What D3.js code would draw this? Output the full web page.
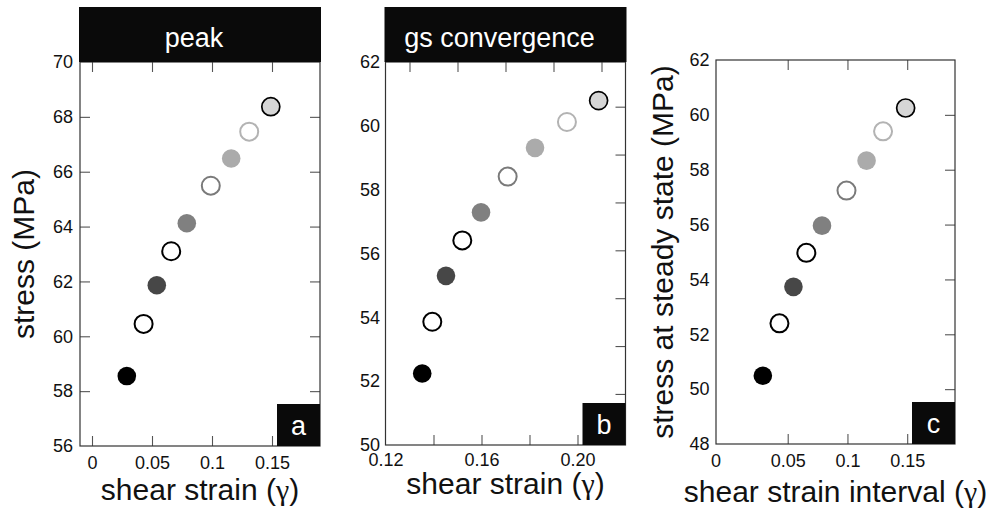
<!DOCTYPE html>
<html>
<head>
<meta charset="utf-8">
<script src="https://cdn.jsdelivr.net/npm/d3@7"></script>
<style>
  body { margin: 0; background: #fff; }
  text { font-family: "Liberation Sans", Arial, Helvetica, sans-serif; }
</style>
</head>
<body>
<script>
// values
var strainA = [0.029, 0.043, 0.054, 0.066, 0.079, 0.099, 0.116, 0.131, 0.149];
var stressA = [58.55, 60.45, 61.86, 63.10, 64.12, 65.49, 66.48, 67.46, 68.37];

var strainB = [0.1353, 0.1395, 0.1452, 0.1520, 0.1598, 0.1709, 0.1823, 0.1956, 0.2088];
var stressB = [52.24, 53.86, 55.30, 56.41, 57.29, 58.41, 59.31, 60.12, 60.79];

var strainC = [0.0292, 0.0431, 0.0548, 0.0656, 0.0787, 0.0992, 0.1160, 0.1298, 0.1487];
var stressC = [50.49, 52.40, 53.73, 54.97, 55.96, 57.24, 58.33, 59.40, 60.25];

// tick labels / tick values
var ticksA_x = [0, 0.05, 0.1, 0.15];
var ticksA_y = [56, 58, 60, 62, 64, 66, 68, 70];
var ticksA_yInner = [58, 60, 62, 64, 66, 68];

var ticksB_x = [0.12, 0.16, 0.20];
var ticksB_xBottom = [0.14, 0.16, 0.18, 0.20];
var ticksB_xTop = [0.13, 0.15, 0.17, 0.19, 0.21];
var ticksB_y = [50, 52, 54, 56, 58, 60, 62];
var ticksB_yRight = [51.6, 53.1, 54.6, 56.1, 57.6, 59.1, 60.6];

var ticksC_x = [0.05, 0.1, 0.15];
var ticksC_y = [48, 50, 52, 54, 56, 58, 60, 62];
var ticksC_yInner = [50, 52, 54, 56, 58, 60];

// marker look, one per point (same order in every panel)
var markFill   = ["#000", "#fff", "#474747", "#fff", "#808080", "#fff", "#ababab", "#fff", "#d6d6d6"];
var markStroke = ["none", "#000", "none", "#000", "none", "#7a7a7a", "none", "#b3b3b3", "#000"];

var W = 1003, H = 514;
var svg = d3.select("body").append("svg").attr("width", W).attr("height", H);

var panels = [
  { xs: strainA, ys: stressA, xDomain: [-0.01, 0.19], yDomain: [56, 70],
    left: 80, right: 320, top: 62, bottom: 446,
    xLabels: ticksA_x, xFmt: function(d){ return String(d); }, xPad: 10,
    xTicksBottom: ticksA_x, xTicksTop: ticksA_x,
    yLabels: ticksA_y, yPad: 7, yTicksLeft: ticksA_yInner, yTicksRight: ticksA_yInner,
    title: "peak", letter: "a",
    ylab: "stress (MPa)", ylabX: 34,
    xlab: "shear strain ", xlabY: 500 },
  { xs: strainB, ys: stressB, xDomain: [0.12, 0.22], yDomain: [50, 62],
    left: 385.5, right: 625.5, top: 62, bottom: 445,
    xLabels: ticksB_x, xFmt: d3.format(".2f"), xPad: 8,
    xTicksBottom: ticksB_xBottom, xTicksTop: ticksB_xTop,
    yLabels: ticksB_y, yPad: 5.5, yTicksLeft: null, yTicksRight: ticksB_yRight,
    title: "gs convergence", letter: "b",
    ylab: null,
    xlab: "shear strain ", xlabY: 494 },
  { xs: strainC, ys: stressC, xDomain: [-0.01, 0.19], yDomain: [48, 62],
    left: 716, right: 955, top: 60, bottom: 444,
    xLabels: ticksC_x, xFmt: function(d){ return String(d); }, xPad: 10, zeroAtEdge: true,
    xTicksBottom: ticksC_x, xTicksTop: ticksC_x,
    yLabels: ticksC_y, yPad: 6.5, yTicksLeft: null, yTicksRight: ticksC_yInner,
    title: null, letter: "c",
    ylab: "stress at steady state (MPa)", ylabX: 673,
    xlab: "shear strain interval ", xlabY: 502 }
];

function styleAxis(sel, size) {
  sel.select(".domain").remove();
  sel.attr("font-family", null).attr("font-size", null);
  sel.selectAll("line").attr("stroke", "#555").attr("stroke-width", 1.1);
  sel.selectAll("text").attr("font-size", size).attr("fill", "#111");
}

panels.forEach(function(p) {
  var x = d3.scaleLinear().domain(p.xDomain).range([p.left, p.right]);
  var y = d3.scaleLinear().domain(p.yDomain).range([p.bottom, p.top]);
  var g = svg.append("g");

  // inward ticks
  g.append("g").attr("transform", "translate(0," + p.bottom + ")")
    .call(d3.axisTop(x).tickValues(p.xTicksBottom).tickSize(10).tickFormat(""))
    .call(styleAxis, 18);
  g.append("g").attr("transform", "translate(0," + p.top + ")")
    .call(d3.axisBottom(x).tickValues(p.xTicksTop).tickSize(10).tickFormat(""))
    .call(styleAxis, 18);
  if (p.yTicksLeft) {
    g.append("g").attr("transform", "translate(" + p.left + ",0)")
      .call(d3.axisRight(y).tickValues(p.yTicksLeft).tickSize(10).tickFormat(""))
      .call(styleAxis, 18);
  }
  g.append("g").attr("transform", "translate(" + p.right + ",0)")
    .call(d3.axisLeft(y).tickValues(p.yTicksRight).tickSize(10).tickFormat(""))
    .call(styleAxis, 18);

  // tick labels
  g.append("g").attr("transform", "translate(0," + p.bottom + ")")
    .call(d3.axisBottom(x).tickValues(p.xLabels).tickSize(0).tickPadding(p.xPad).tickFormat(p.xFmt))
    .call(styleAxis, 18);
  if (p.zeroAtEdge) {
    g.append("text").attr("x", x(p.xDomain[0])).attr("y", p.bottom + p.xPad)
      .attr("dy", "0.71em").attr("text-anchor", "middle")
      .attr("font-size", 18).attr("fill", "#111").text("0");
  }
  g.append("g").attr("transform", "translate(" + p.left + ",0)")
    .call(d3.axisLeft(y).tickValues(p.yLabels).tickSize(0).tickPadding(p.yPad))
    .call(styleAxis, 18);

  // frame
  g.append("rect")
    .attr("x", p.left).attr("y", p.top)
    .attr("width", p.right - p.left).attr("height", p.bottom - p.top)
    .attr("fill", "none").attr("stroke", "#333").attr("stroke-width", 1.2);

  // title box
  if (p.title) {
    g.append("rect").attr("x", p.left - 1).attr("y", 7)
      .attr("width", p.right - p.left + 2).attr("height", p.top - 7)
      .attr("fill", "#0a0a0a");
    g.append("text").attr("x", (p.left + p.right) / 2 - 6).attr("y", 46.5)
      .attr("text-anchor", "middle").attr("font-size", 27).attr("fill", "#fff")
      .text(p.title);
  }

  // panel letter box
  g.append("rect").attr("x", p.right - 43).attr("y", p.bottom - 42)
    .attr("width", 43).attr("height", 42).attr("fill", "#0a0a0a");
  g.append("text").attr("x", p.right - 21.5).attr("y", p.bottom - 11)
    .attr("text-anchor", "middle").attr("font-size", 27).attr("fill", "#fff")
    .text(p.letter);

  // points
  var pts = p.xs.map(function(v, i) { return { x: v, y: p.ys[i], i: i }; });
  g.selectAll("circle.pt").data(pts).enter().append("circle")
    .attr("class", "pt")
    .attr("cx", function(d) { return x(d.x); })
    .attr("cy", function(d) { return y(d.y); })
    .attr("r", function(d) { return markStroke[d.i] === "none" ? 9.3 : 9; })
    .attr("fill", function(d) { return markFill[d.i]; })
    .attr("stroke", function(d) { return markStroke[d.i]; })
    .attr("stroke-width", function(d) { return d.i === 8 ? 1.7 : 2; });

  // axis titles
  var xt = g.append("text").attr("x", (p.left + p.right) / 2).attr("y", p.xlabY)
    .attr("text-anchor", "middle").attr("font-size", 30).attr("fill", "#111");
  xt.append("tspan").text(p.xlab + "(");
  xt.append("tspan").attr("font-family", "'Liberation Serif', 'DejaVu Serif', serif").text("\u03b3");
  xt.append("tspan").text(")");

  if (p.ylab) {
    g.append("text")
      .attr("transform", "translate(" + p.ylabX + "," + ((p.top + p.bottom) / 2) + ") rotate(-90)")
      .attr("text-anchor", "middle").attr("font-size", 30).attr("fill", "#111")
      .text(p.ylab);
  }
});
</script>
</body>
</html>
